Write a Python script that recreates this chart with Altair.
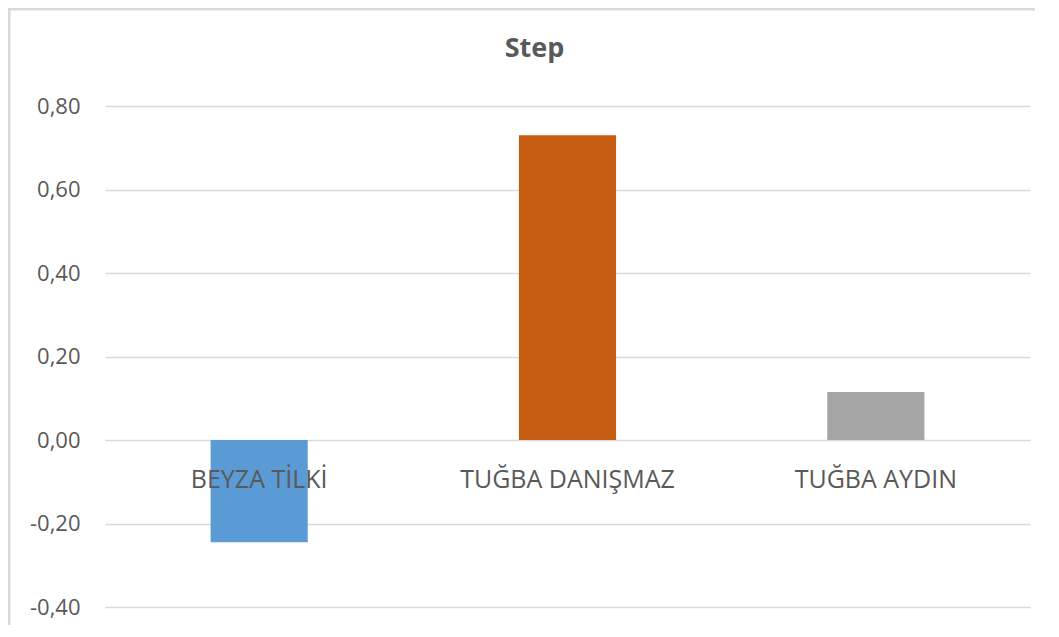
import altair as alt
import pandas as pd

names = ["BEYZA TİLKİ", "TUĞBA DANIŞMAZ", "TUĞBA AYDIN"]
values = [-0.245, 0.730, 0.115]
colors = ["#5B9BD5", "#C55A11", "#A5A5A5"]
y_ticks = [-0.4, -0.2, 0.0, 0.2, 0.4, 0.6, 0.8]

df = pd.DataFrame({"name": names, "value": values, "color": colors})

FONT = "Open Sans"
GREY = "#595959"

x_enc = alt.X("name:N", sort=names, axis=None,
              scale=alt.Scale(paddingInner=0.685, paddingOuter=0.3425))

bars = alt.Chart(df).mark_bar().encode(
    x=x_enc,
    y=alt.Y("value:Q", title=None,
            scale=alt.Scale(domain=[-0.4, 0.8], nice=False, zero=False),
            axis=alt.Axis(values=y_ticks, grid=True, domain=False, ticks=False,
                          labelPadding=25, labelFontSize=22, labelColor=GREY,
                          labelFont=FONT, gridColor="#D9D9D9", gridWidth=1.6,
                          labelExpr="replace(replace(format(datum.value, '.2f'), '.', ','), '\u2212', '-')")),
    color=alt.Color("color:N", scale=None),
)

labels = alt.Chart(df).mark_text(
    fontSize=25, font=FONT, color=GREY, dy=40, baseline="middle"
).encode(
    x=x_enc,
    y=alt.datum(0),
    text="name:N",
)

frame = alt.Chart(alt.Data(values=[{"a": 1}])).mark_rect(
    fill="transparent", stroke="#D9D9D9", strokeWidth=3, clip=False
).encode(
    x=alt.value(-96), x2=alt.value(1000),
    y=alt.value(-97), y2=alt.value(600),
)

chart = alt.layer(frame, bars, labels).properties(
    width=925, height=501,
    padding={"left": 97, "top": 98, "right": 5, "bottom": 18},
    autosize=alt.AutoSizeParams(type="none"),
    title=alt.TitleParams("Step", fontSize=27, font=FONT, fontWeight="bold",
                          color=GREY, anchor="middle", frame="group",
                          dx=-33, offset=0, dy=55),
).configure_view(stroke=None)

chart.save("out.html", embed_options={"renderer": "svg", "actions": False})
